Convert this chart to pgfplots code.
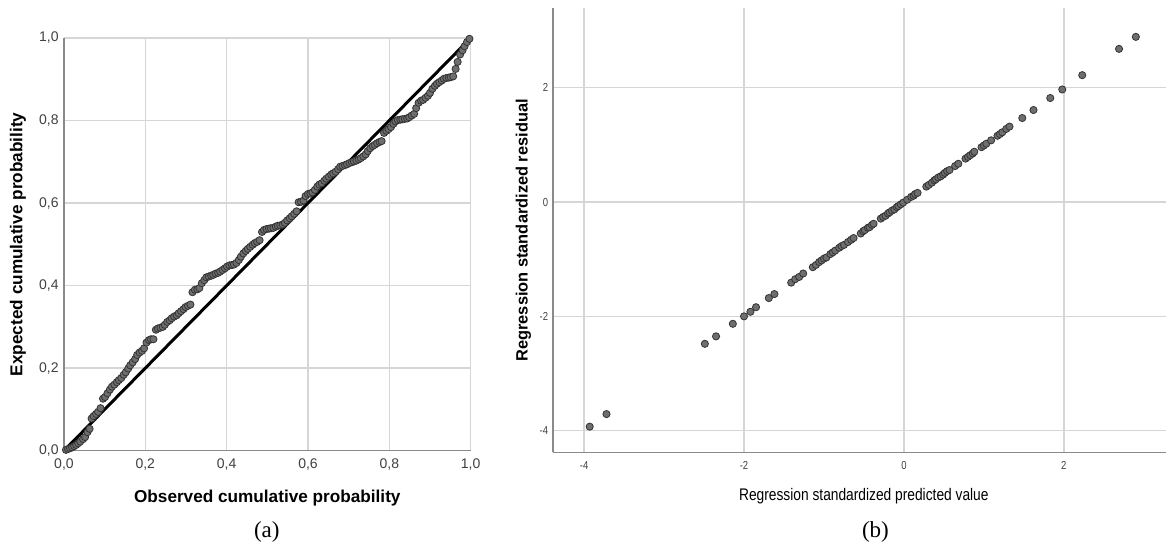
\documentclass[border=0pt]{standalone}
\usepackage{pgfplots}
\pgfplotsset{compat=1.18}
\usepackage{fontspec}
\setmainfont{Liberation Sans}
\newfontfamily\narrowfont{Liberation Sans}[FakeStretch=0.82]
\newfontfamily\seriffont{Liberation Serif}

\definecolor{ptfill}{HTML}{6E6E6E}
\definecolor{ptedge}{HTML}{333333}
\definecolor{gridc}{HTML}{D6D6D6}
\definecolor{axc}{HTML}{8A8A8A}

\pgfplotsset{
  spss/.style={
    scale only axis, clip=false,
    axis lines*=left, axis line style={draw=axc, line width=0.8pt},
    grid=major, major grid style={draw=gridc, line width=0.75pt},
    major tick length=0pt,
    /pgf/number format/assume math mode=true,
  },
  pt/.style={only marks, mark=*, mark size=1.8pt, draw=ptedge, fill=ptfill,
    mark options={fill=ptfill, draw=ptedge, line width=0.4pt}},
}

\begin{document}
\begin{tikzpicture}[x=1pt,y=1pt]
\path (0,0) rectangle (583.5,273);

% (a) P-P plot
\begin{axis}[spss, at={(32pt,47.5pt)}, anchor=south west,
  width=203.5pt, height=206.5pt,
  xmin=0, xmax=1, ymin=0, ymax=1,
  xtick={0,0.2,0.4,0.6,0.8,1}, ytick={0,0.2,0.4,0.6,0.8,1},
  xticklabels={{0,0},{0,2},{0,4},{0,6},{0,8},{1,0}},
  yticklabels={{0,0},{0,2},{0,4},{0,6},{0,8},{1,0}},
  tick label style={font=\fontsize{7}{8}\selectfont, text=black!75, inner sep=0pt},
  xticklabel style={anchor=north, yshift=-4pt},
  yticklabel style={anchor=east, xshift=-2.5pt},
  every axis x label/.style={at={(axis description cs:0.5,-0.114)}, anchor=center},
  every axis y label/.style={at={(axis description cs:-0.113,0.5)}, anchor=center, rotate=90},
  label style={font=\fontsize{8.6}{10}\selectfont\bfseries},
  xlabel={Observed cumulative probability},
  ylabel={Expected cumulative probability},
]
\addplot[pt] coordinates {
(0.005,0.002) (0.010,0.004) (0.015,0.006) (0.020,0.008) (0.025,0.011)
(0.030,0.014) (0.035,0.018) (0.040,0.022) (0.047,0.028) (0.052,0.033)
(0.058,0.045) (0.063,0.053) (0.068,0.078) (0.073,0.084) (0.079,0.089)
(0.084,0.094) (0.090,0.103) (0.096,0.126) (0.101,0.130) (0.107,0.139)
(0.113,0.148) (0.118,0.155) (0.124,0.160) (0.130,0.166) (0.135,0.171)
(0.141,0.176) (0.147,0.184) (0.152,0.190) (0.158,0.199) (0.163,0.207)
(0.169,0.214) (0.175,0.222) (0.180,0.232) (0.186,0.238) (0.192,0.242)
(0.197,0.248) (0.203,0.262) (0.209,0.268) (0.214,0.270) (0.220,0.270)
(0.226,0.293) (0.231,0.296) (0.237,0.298) (0.243,0.300) (0.248,0.305)
(0.254,0.312) (0.260,0.316) (0.265,0.321) (0.271,0.325) (0.277,0.328)
(0.282,0.333) (0.288,0.338) (0.294,0.343) (0.299,0.348) (0.305,0.351)
(0.311,0.354) (0.316,0.384) (0.322,0.390) (0.328,0.391) (0.333,0.394)
(0.339,0.406) (0.345,0.413) (0.350,0.420) (0.356,0.422) (0.362,0.424)
(0.367,0.426) (0.373,0.429) (0.379,0.431) (0.384,0.434) (0.390,0.438)
(0.396,0.442) (0.401,0.446) (0.407,0.449) (0.413,0.450) (0.418,0.451)
(0.424,0.455) (0.430,0.462) (0.435,0.470) (0.441,0.478) (0.447,0.484)
(0.452,0.489) (0.458,0.494) (0.464,0.499) (0.469,0.503) (0.475,0.506)
(0.481,0.510) (0.487,0.530) (0.492,0.535) (0.498,0.537) (0.504,0.538)
(0.509,0.539) (0.515,0.540) (0.521,0.543) (0.526,0.545) (0.532,0.546)
(0.538,0.548) (0.543,0.552) (0.549,0.558) (0.555,0.563) (0.560,0.568)
(0.566,0.574) (0.572,0.580) (0.577,0.602) (0.583,0.603) (0.589,0.606)
(0.594,0.617) (0.600,0.622) (0.606,0.623) (0.611,0.626) (0.617,0.632)
(0.623,0.640) (0.628,0.645) (0.634,0.648) (0.640,0.654) (0.645,0.659)
(0.651,0.664) (0.657,0.669) (0.662,0.672) (0.668,0.676) (0.674,0.682)
(0.679,0.688) (0.685,0.690) (0.691,0.692) (0.696,0.694) (0.702,0.697)
(0.708,0.699) (0.713,0.701) (0.719,0.703) (0.725,0.706) (0.730,0.709)
(0.736,0.713) (0.742,0.718) (0.747,0.726) (0.753,0.733) (0.759,0.738)
(0.764,0.741) (0.770,0.745) (0.776,0.748) (0.781,0.750) (0.787,0.770)
(0.793,0.775) (0.798,0.779) (0.804,0.784) (0.810,0.792) (0.815,0.798)
(0.821,0.801) (0.827,0.802) (0.832,0.803) (0.838,0.804) (0.844,0.805)
(0.849,0.808) (0.855,0.812) (0.861,0.816) (0.866,0.830) (0.872,0.843)
(0.878,0.848) (0.883,0.850) (0.889,0.855) (0.895,0.860) (0.900,0.867)
(0.906,0.877) (0.912,0.884) (0.917,0.889) (0.923,0.893) (0.929,0.897)
(0.934,0.901) (0.940,0.903) (0.946,0.904) (0.951,0.905) (0.957,0.907)
(0.963,0.925) (0.968,0.942) (0.974,0.960) (0.980,0.970) (0.985,0.980)
(0.991,0.990) (0.997,0.998)
};
\addplot[no marks, draw=black, line width=1.5pt] coordinates {(0,0) (1,1)};
\end{axis}

% (b) residual scatter
\begin{axis}[spss, at={(276.65pt,46.65pt)}, anchor=south west,
  width=306.85pt, height=222.2pt,
  xmin=-4.39, xmax=3.28, ymin=-4.38, ymax=3.39,
  xtick={-4,-2,0,2}, ytick={-4,-2,0,2},
  xticklabels={-4,-2,0,2}, yticklabels={-4,-2,0,2},
  tick label style={font=\narrowfont\fontsize{5.8}{7}\selectfont, text=black!75, inner sep=0pt},
  xticklabel style={anchor=north, yshift=-4.5pt},
  yticklabel style={anchor=east, xshift=-2.2pt},
  every axis x label/.style={at={(axis description cs:0.507,-0.0977)}, anchor=center},
  every axis y label/.style={at={(axis description cs:-0.048,0.5)}, anchor=center, rotate=90},
  xlabel style={font=\narrowfont\fontsize{8.4}{10}\selectfont},
  ylabel style={font=\fontsize{8.2}{10}\selectfont\bfseries},
  xlabel={Regression standardized predicted value},
  ylabel={Regression standardized residual},
]
\addplot[pt] coordinates {
(-3.93,-3.93) (-3.72,-3.71) (-2.49,-2.48) (-2.35,-2.35) (-2.14,-2.13)
(-2.00,-2.00) (-1.92,-1.92) (-1.85,-1.84) (-1.69,-1.68) (-1.62,-1.61)
(-1.41,-1.41) (-1.36,-1.35) (-1.31,-1.31) (-1.26,-1.25) (-1.14,-1.14)
(-1.10,-1.10) (-1.06,-1.05) (-1.03,-1.02) (-1.00,-0.99) (-0.97,-0.97)
(-0.92,-0.91) (-0.89,-0.88) (-0.86,-0.85) (-0.81,-0.80) (-0.78,-0.77)
(-0.75,-0.75) (-0.70,-0.70) (-0.66,-0.66) (-0.63,-0.63) (-0.54,-0.55)
(-0.51,-0.51) (-0.49,-0.49) (-0.45,-0.45) (-0.43,-0.44) (-0.40,-0.40)
(-0.38,-0.38) (-0.29,-0.29) (-0.26,-0.26) (-0.23,-0.24) (-0.20,-0.20)
(-0.18,-0.18) (-0.15,-0.15) (-0.12,-0.13) (-0.09,-0.09) (-0.07,-0.07)
(-0.04,-0.04) (-0.01,-0.01) (0.04,0.04) (0.09,0.09) (0.12,0.11)
(0.14,0.14) (0.17,0.16) (0.28,0.27) (0.31,0.30) (0.35,0.34)
(0.38,0.38) (0.40,0.40) (0.43,0.43) (0.46,0.45) (0.49,0.48)
(0.51,0.51) (0.54,0.54) (0.57,0.56) (0.64,0.63) (0.68,0.67)
(0.77,0.76) (0.80,0.79) (0.83,0.82) (0.86,0.85) (0.88,0.88)
(0.97,0.96) (1.00,0.99) (1.03,1.02) (1.09,1.08) (1.17,1.16)
(1.20,1.19) (1.23,1.22) (1.28,1.28) (1.32,1.32) (1.48,1.47)
(1.62,1.61) (1.83,1.82) (1.98,1.97) (2.23,2.22) (2.69,2.68)
(2.90,2.89)
};
\end{axis}

\node[font=\seriffont\fontsize{11.5}{13}\selectfont] at (133.5,7) {(a)};
\node[font=\seriffont\fontsize{11.5}{13}\selectfont] at (438,7) {(b)};
\end{tikzpicture}
\end{document}
